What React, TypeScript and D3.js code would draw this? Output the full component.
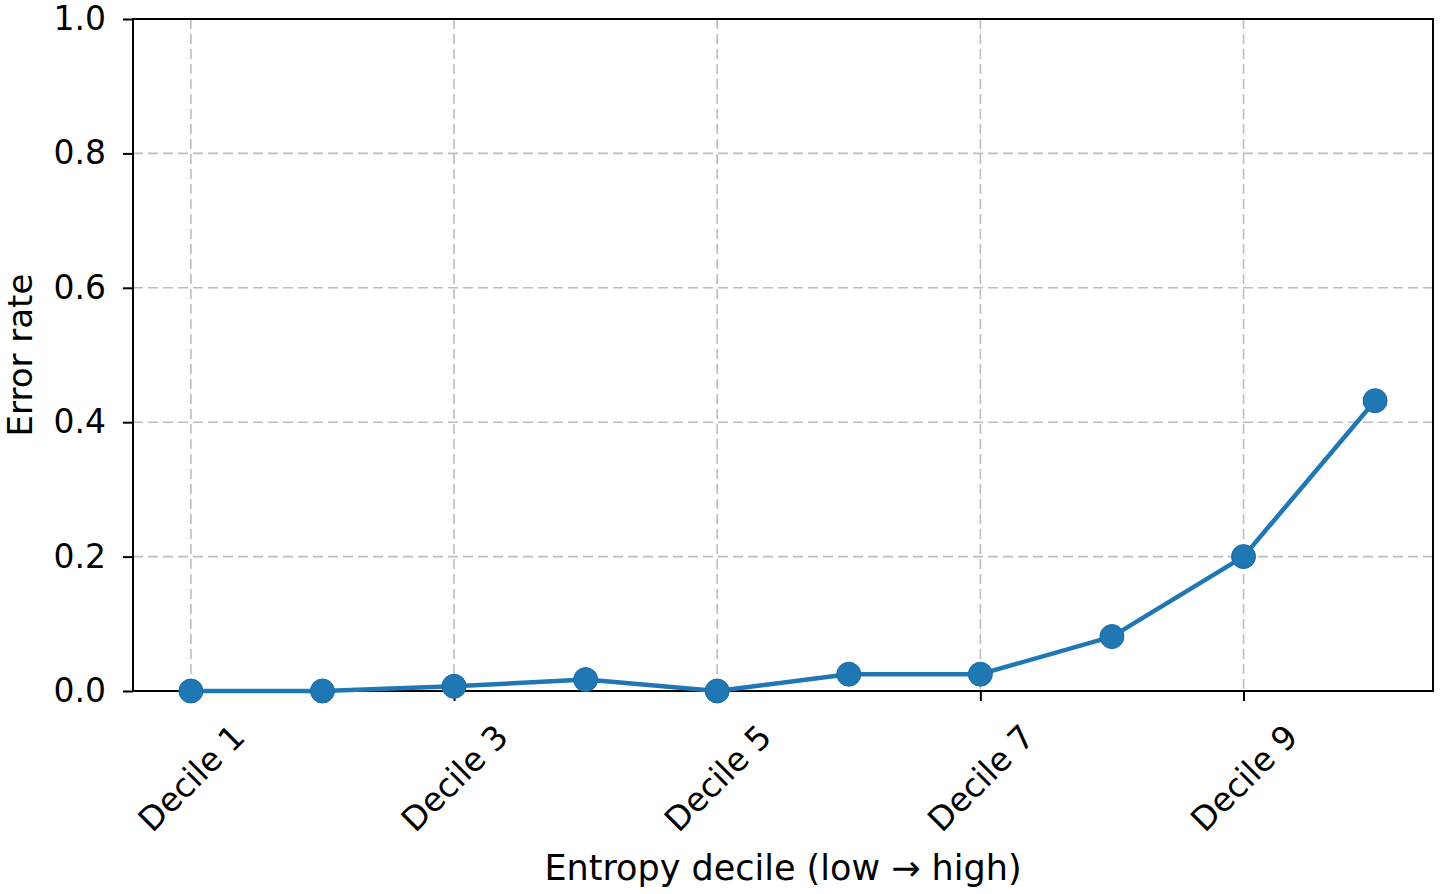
import { useEffect, useRef } from "react";
import * as d3 from "d3";

const deciles = ["Decile 1", "Decile 2", "Decile 3", "Decile 4", "Decile 5", "Decile 6", "Decile 7", "Decile 8", "Decile 9", "Decile 10"];
const errorRate = [0.0, 0.0, 0.007, 0.017, 0.0, 0.025, 0.025, 0.081, 0.2, 0.432];
const shownTicks = ["Decile 1", "Decile 3", "Decile 5", "Decile 7", "Decile 9"];
const yTicks = [0, 0.2, 0.4, 0.6, 0.8, 1.0];

const W = 1441;
const H = 894;
const FONT = "DejaVu Sans, sans-serif";
const BLUE = "#1f77b4";

export default function App() {
  const ref = useRef<SVGSVGElement | null>(null);

  useEffect(() => {
    const svg = d3.select(ref.current);
    svg.selectAll("*").remove();

    const margin = { top: 19, right: 8, bottom: 203, left: 133 };
    const w = W - margin.left - margin.right;
    const h = H - margin.top - margin.bottom;

    const g = svg.append("g").attr("transform", `translate(${margin.left},${margin.top})`);

    // categorical x positions, matplotlib-like padding
    const x = d3.scalePoint<string>().domain(deciles).range([0, w]).padding(0.44);
    const y = d3.scaleLinear().domain([0, 1]).range([h, 0]);

    // grid
    const grid = g.append("g").attr("stroke", "#bdbdbd").attr("stroke-width", 1.6).attr("stroke-dasharray", "10,5");
    grid
      .selectAll("line.v")
      .data(shownTicks)
      .join("line")
      .attr("class", "v")
      .attr("x1", (d) => x(d)!)
      .attr("x2", (d) => x(d)!)
      .attr("y1", 0)
      .attr("y2", h);
    grid
      .selectAll("line.h")
      .data(yTicks)
      .join("line")
      .attr("class", "h")
      .attr("x1", 0)
      .attr("x2", w)
      .attr("y1", (d) => y(d))
      .attr("y2", (d) => y(d));

    // y axis
    const ya = g
      .append("g")
      .call(d3.axisLeft(y).tickValues(yTicks).tickFormat(d3.format(".1f")).tickSize(10).tickPadding(17));
    ya.select(".domain").remove();
    ya.selectAll("line").attr("stroke", "#000").attr("stroke-width", 2);
    ya.selectAll("text").attr("font-size", 33).attr("font-family", FONT).attr("fill", "#000");

    // x axis
    const xa = g
      .append("g")
      .attr("transform", `translate(0,${h})`)
      .call(d3.axisBottom(x).tickValues(shownTicks).tickSize(10));
    xa.select(".domain").remove();
    xa.selectAll("line").attr("stroke", "#000").attr("stroke-width", 2);
    xa.selectAll("text")
      .attr("font-size", 33)
      .attr("font-family", FONT)
      .attr("fill", "#000")
      .attr("text-anchor", "middle")
      .attr("y", 0)
      .attr("dy", "0.35em")
      .attr("transform", "translate(0,87) rotate(-45)");

    // frame
    g.append("rect")
      .attr("width", w)
      .attr("height", h)
      .attr("fill", "none")
      .attr("stroke", "#000")
      .attr("stroke-width", 2);

    // line + markers
    const pts = deciles.map((d, i) => ({ d, v: errorRate[i] }));
    g.append("path")
      .datum(pts)
      .attr("fill", "none")
      .attr("stroke", BLUE)
      .attr("stroke-width", 4.5)
      .attr("stroke-linejoin", "round")
      .attr(
        "d",
        d3
          .line<{ d: string; v: number }>()
          .x((p) => x(p.d)!)
          .y((p) => y(p.v)),
      );
    g.append("g")
      .selectAll("circle")
      .data(pts)
      .join("circle")
      .attr("cx", (p) => x(p.d)!)
      .attr("cy", (p) => y(p.v))
      .attr("r", 12)
      .attr("fill", BLUE)
      .attr("stroke", "#1a6aa3")
      .attr("stroke-width", 1);

    // axis labels
    svg
      .append("text")
      .attr("transform", `translate(32,${margin.top + h / 2}) rotate(-90)`)
      .attr("text-anchor", "middle")
      .attr("font-size", 34)
      .attr("font-family", FONT)
      .text("Error rate");

    svg
      .append("text")
      .attr("x", margin.left + w / 2)
      .attr("y", 880)
      .attr("text-anchor", "middle")
      .attr("font-size", 35)
      .attr("font-family", FONT)
      .text("Entropy decile (low → high)");
  }, []);

  return (
    <svg
      ref={ref}
      width={W}
      height={H}
      style={{ position: "absolute", left: 0, top: 0, background: "#fff" }}
    />
  );
}
